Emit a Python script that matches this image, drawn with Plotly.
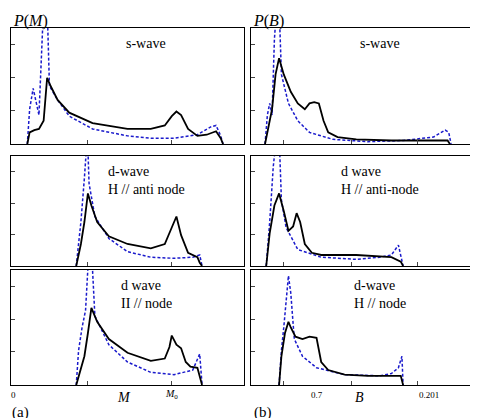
import plotly.graph_objects as go

# x in percent of panel width, y in fraction of panel height
# (a) s-wave
a1_bx = [7, 8, 10, 12, 14, 15.5, 17, 20, 25, 35, 50, 60, 66, 69, 71, 73, 76, 80, 84, 88, 90, 91]
a1_by = [0, 0.1, 0.12, 0.13, 0.2, 0.57, 0.5, 0.38, 0.27, 0.18, 0.13, 0.13, 0.16, 0.24, 0.28, 0.25, 0.13, 0.07, 0.08, 0.11, 0.05, 0]
a1_lx = [7, 8, 9.5, 10.5, 12, 14, 15.5, 16.5, 20, 25, 35, 50, 60, 70, 80, 86, 88, 90, 91]
a1_ly = [0, 0.3, 0.48, 0.38, 0.25, 1.2, 1.2, 0.5, 0.38, 0.24, 0.13, 0.07, 0.05, 0.05, 0.08, 0.15, 0.16, 0.07, 0]
# d-wave antinode (a)
a2_bx = [28, 30, 31.5, 33, 34.5, 37, 42, 50, 60, 66, 69, 71, 73, 76, 80, 81, 82]
a2_by = [0, 0.2, 0.4, 0.66, 0.55, 0.4, 0.27, 0.2, 0.16, 0.2, 0.35, 0.45, 0.28, 0.12, 0.08, 0.03, 0]
a2_lx = [28, 30, 31.5, 32, 32.8, 33.5, 36, 42, 50, 60, 70, 78, 81, 82]
a2_ly = [0, 0.4, 0.8, 1.2, 1.2, 0.75, 0.45, 0.25, 0.13, 0.08, 0.07, 0.08, 0.1, 0]
# d-wave node (a)
a3_bx = [28, 30, 31.5, 33, 34.5, 37, 42, 50, 60, 66, 68, 69, 71, 73, 75, 77, 80, 82]
a3_by = [0, 0.15, 0.25, 0.45, 0.67, 0.55, 0.4, 0.28, 0.21, 0.23, 0.33, 0.43, 0.35, 0.32, 0.2, 0.16, 0.15, 0]
a3_lx = [28, 29, 30.5, 32, 33.5, 34.5, 36, 42, 50, 60, 70, 78, 81, 82]
a3_ly = [0, 0.3, 0.5, 0.65, 1.2, 1.2, 0.6, 0.35, 0.2, 0.11, 0.09, 0.13, 0.27, 0]
# (b) s-wave
b1_bx = [6, 7, 9, 10.5, 12, 14, 17, 20, 23, 25, 27, 29, 31, 33, 37, 45, 60, 75, 84, 85]
b1_by = [0, 0.1, 0.3, 0.6, 0.74, 0.6, 0.45, 0.35, 0.3, 0.35, 0.36, 0.35, 0.2, 0.1, 0.06, 0.04, 0.03, 0.03, 0.03, 0]
b1_lx = [6, 7, 8, 9, 10, 11, 12, 13, 16, 20, 25, 35, 50, 65, 78, 83, 84.5, 85.5]
b1_ly = [0, 0.25, 0.35, 0.25, 0.9, 1.2, 1.2, 0.6, 0.35, 0.2, 0.1, 0.04, 0.02, 0.03, 0.06, 0.12, 0.1, 0]
# d-wave antinode (b)
b2_bx = [6.5, 8, 10, 12, 14, 16, 18, 19.5, 21, 23, 26, 30, 45, 60, 64, 65]
b2_by = [0, 0.3, 0.55, 0.66, 0.5, 0.32, 0.36, 0.48, 0.4, 0.2, 0.12, 0.1, 0.1, 0.08, 0.04, 0]
b2_lx = [6.5, 8, 9.5, 11, 12, 13, 15, 20, 30, 45, 55, 60, 63, 65]
b2_ly = [0, 0.4, 0.9, 1.2, 1.2, 0.6, 0.35, 0.15, 0.08, 0.06, 0.08, 0.1, 0.19, 0]
# d-wave node (b)
b3_bx = [12, 13, 14.5, 16, 17, 19, 22, 25, 28, 30, 33, 40, 50, 60, 64, 65]
b3_by = [0, 0.25, 0.45, 0.55, 0.5, 0.42, 0.4, 0.42, 0.41, 0.2, 0.13, 0.09, 0.08, 0.08, 0.08, 0]
b3_lx = [12, 13, 14, 15, 16, 17, 18.5, 22, 28, 40, 55, 60, 63, 64.5, 65]
b3_ly = [0, 0.3, 0.5, 0.75, 0.95, 0.8, 0.4, 0.25, 0.15, 0.09, 0.08, 0.1, 0.15, 0.25, 0]

panels = [
    (a1_bx, a1_by, a1_lx, a1_ly, "s-wave"),
    (b1_bx, b1_by, b1_lx, b1_ly, "s-wave"),
    (a2_bx, a2_by, a2_lx, a2_ly, "d-wave<br>H // anti node"),
    (b2_bx, b2_by, b2_lx, b2_ly, "d wave<br>H // anti-node"),
    (a3_bx, a3_by, a3_lx, a3_ly, "d wave<br>II // node"),
    (b3_bx, b3_by, b3_lx, b3_ly, "d-wave<br>H // node"),
]

W, H = 478, 418
xdoms = [(3 / W, 236 / W), (243 / W, 477 / W)]
ydoms = [(1 - 136 / H, 1 - 20 / H), (1 - 258 / H, 1 - 148 / H), (1 - 377 / H, 1 - 262 / H)]
font = "Liberation Serif, DejaVu Serif, serif"

fig = go.Figure()
layout = {}
for i, (bx, by, lx, ly, label) in enumerate(panels):
    n = i + 1
    xa, ya = ("x" if n == 1 else "x%d" % n), ("y" if n == 1 else "y%d" % n)
    fig.add_trace(go.Scatter(x=lx, y=ly, mode="lines", xaxis=xa, yaxis=ya,
                             line=dict(color="#1a1acc", width=1.5, dash="3px,2px"), showlegend=False))
    fig.add_trace(go.Scatter(x=bx, y=by, mode="lines", xaxis=xa, yaxis=ya,
                             line=dict(color="black", width=1.8), showlegend=False))
    row, col = divmod(i, 2)
    ax = dict(domain=xdoms[col], range=[0, 100], showgrid=False, zeroline=False,
              showline=True, linecolor="black", mirror=True, ticks="inside",
              ticklen=4, tickvals=[14, 43, 71] if col == 1 else [33, 69], showticklabels=False)
    ay = dict(domain=ydoms[row], range=[0, 1], showgrid=False, zeroline=False,
              showline=True, linecolor="black", mirror=True, ticks="inside",
              ticklen=4, tickvals=[0.29, 0.57, 0.86], showticklabels=False,
              anchor=xa)
    ax["anchor"] = ya
    layout["xaxis" if n == 1 else "xaxis%d" % n] = ax
    layout["yaxis" if n == 1 else "yaxis%d" % n] = ay
    fig.add_annotation(x=58 if col == 0 else 55, y=0.95, xref=xa, yref=ya, text=label,
                       showarrow=False, xanchor="center", yanchor="top", align="left",
                       font=dict(size=14, family=font, color="black"))

texts = [
    (3, 418 - 2, "<i>P</i>(<i>M</i>)", 16, "left", "top"),
    (243, 418 - 2, "<i>P</i>(<i>B</i>)", 16, "left", "top"),
    (5, 418 - 380, "0", 9, "center", "top"),
    (116, 418 - 380, "<i>M</i>", 14, "center", "top"),
    (163, 418 - 378, "<i>M</i><sub>0</sub>", 10, "center", "top"),
    (309, 418 - 380, "0.7", 9, "center", "top"),
    (351, 418 - 380, "<i>B</i>", 14, "center", "top"),
    (421, 418 - 380, "0.201", 9, "center", "top"),
    (2, 3, "(a)", 15, "left", "bottom"),
    (244, 3, "(b)", 15, "left", "bottom"),
]
for x, y, t, s, xa, yan in texts:
    fig.add_annotation(x=x / W, y=y / H, xref="paper", yref="paper", text=t, showarrow=False,
                       xanchor=xa, yanchor=yan, font=dict(size=s, family=font, color="black"))

fig.update_layout(width=W, height=H, margin=dict(l=0, r=0, t=0, b=0),
                  plot_bgcolor="white", paper_bgcolor="white", **layout)
fig.write_html("out.html")
